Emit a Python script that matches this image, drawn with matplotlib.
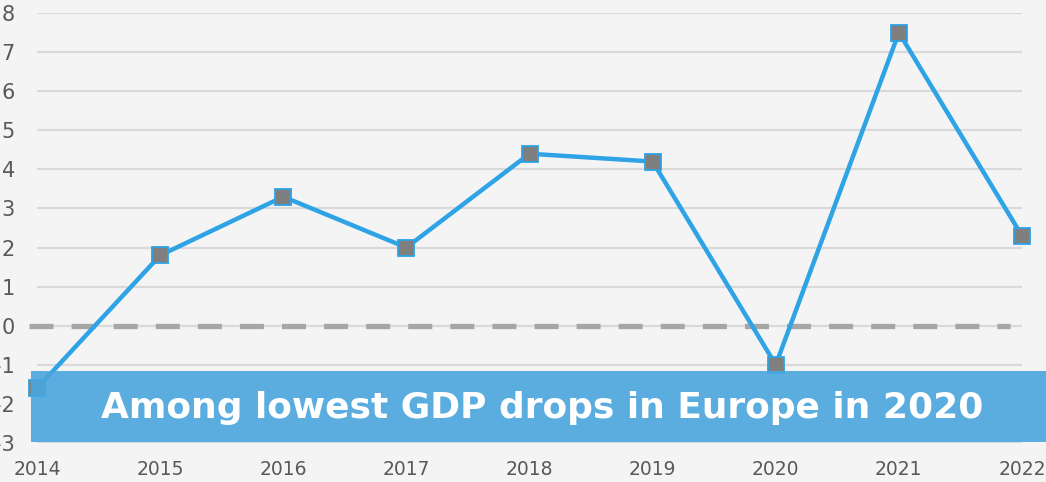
import matplotlib
matplotlib.use("Agg")
import matplotlib.pyplot as plt
from matplotlib.patches import Rectangle

years = [2014, 2015, 2016, 2017, 2018, 2019, 2020, 2021, 2022]
gdp_growth = [-1.6, 1.8, 3.3, 2.0, 4.4, 4.2, -1.0, 7.5, 2.3]
y_ticks = [-3, -2, -1, 0, 1, 2, 3, 4, 5, 6, 7, 8]
banner_text = "Among lowest GDP drops in Europe in 2020"

W, H = 1046, 482
bg = "#f4f4f4"
fig = plt.figure(figsize=(W / 100, H / 100), dpi=100, facecolor=bg)
ax = fig.add_axes([37 / W, 1 - 443 / H, (1022 - 37) / W, (443 - 13) / H])
ax.set_facecolor(bg)

ax.set_xlim(years[0], years[-1])
ax.set_ylim(y_ticks[0], y_ticks[-1])
ax.set_yticks(y_ticks)
ax.set_yticklabels([str(t) for t in y_ticks])
ax.set_xticks(years)
ax.set_xticklabels([str(y) for y in years])
for s in ax.spines.values():
    s.set_visible(False)
ax.tick_params(axis="both", length=0, colors="#595959")
ax.tick_params(axis="y", pad=16, labelsize=15)
ax.tick_params(axis="x", pad=12, labelsize=13.5)
ax.grid(axis="y", color="#d9d9d9", linewidth=1.6, zorder=0)
ax.set_axisbelow(True)

# zero dashed reference line
zl, = ax.plot([years[0] - 0.065, years[-1] - 0.1], [0, 0], color="#a6a6a6",
              linewidth=3.8, zorder=1, clip_on=False, solid_capstyle="butt")
zl.set_dashes((17.3 / 3.8, 13.0 / 3.8))
zl.set_dash_capstyle("butt")

ax.plot(years, gdp_growth, color="#2ea3e5", linewidth=3.2, marker="s",
        markersize=11.5, markerfacecolor="#7f7f7f", markeredgecolor="#2ea3e5",
        markeredgewidth=1.3, zorder=3, clip_on=False)

# banner
rect = Rectangle((31 / W, 1 - 442 / H), (W - 31) / W, (442 - 371) / H,
                 transform=fig.transFigure, facecolor="#4aa6de", alpha=0.9,
                 edgecolor="none", zorder=5)
fig.patches.append(rect)
t = fig.text(542 / W, 1 - 408 / H, banner_text, ha="center", va="center",
             color="white", fontsize=26, fontweight="bold", family="DejaVu Sans",
             zorder=6)
fig.canvas.draw()
w = t.get_window_extent().width
t.set_fontsize(26 * 885 / w)

fig.savefig("out.png", dpi=100, facecolor=bg)
